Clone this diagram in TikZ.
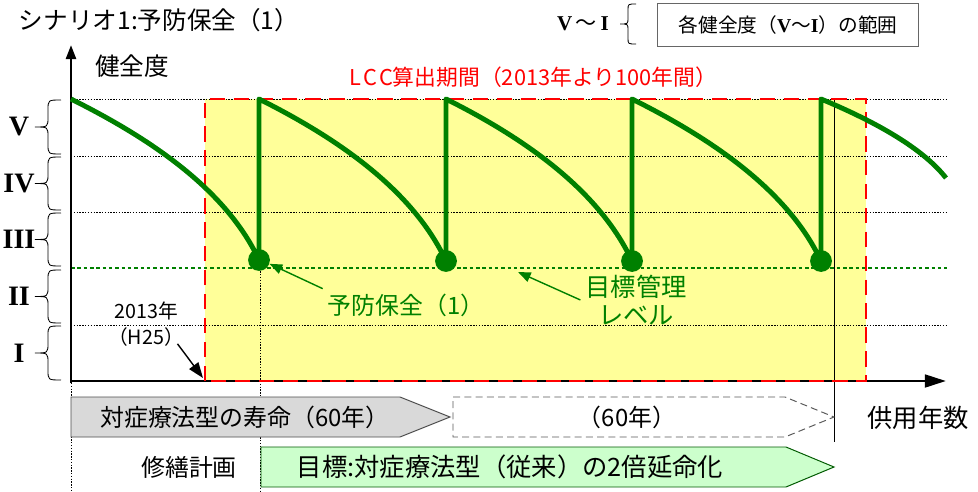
\documentclass[tikz,border=0pt]{standalone}
\usepackage{fontspec}
\setmainfont{Noto Sans CJK JP}
\newfontfamily\romanfont{Liberation Serif}
\usetikzlibrary{arrows.meta}

\definecolor{kgreen}{RGB}{0,128,0}
\definecolor{kyellow}{RGB}{255,255,153}
\definecolor{kpale}{RGB}{204,255,204}
\definecolor{kgray}{RGB}{217,217,217}
\newcommand{\romnum}[1]{{\romanfont\bfseries #1}}

\tikzset{
  gridline/.style={black, line width=0.6pt, dash pattern=on 1pt off 1pt},
  targetline/.style={kgreen, line width=1.4pt, dash pattern=on 2.5pt off 2pt},
  axis/.style={black, line width=2pt},
  lccbox/.style={red, line width=1.6pt, dash pattern=on 11pt off 6pt},
  life/.style={kgreen, line width=3.5pt, line join=round},
  dot/.style={circle, fill=kgreen, inner sep=0pt, minimum size=15.5pt},
  bracket/.style={black, line width=0.6pt},
  roman/.style={font=\fontsize{20}{22}\selectfont\romanfont\bfseries},
  callout/.style={kgreen, line width=1pt, -{Triangle[length=9pt,width=7pt]}},
  t14/.style={font=\fontsize{14}{18}\selectfont},
  t15/.style={font=\fontsize{15}{18}\selectfont},
  t17/.style={font=\fontsize{17}{20}\selectfont},
  t18/.style={font=\fontsize{18}{20}\selectfont},
}

\begin{document}
\begin{tikzpicture}[x=0.025cm, y=-0.025cm]
  \useasboundingbox (0,0) rectangle (978,492);

  \fill[kyellow] (205,99) rectangle (866,381);

  \foreach \y in {99,156,212,325} {
    \draw[gridline] (71,\y) -- (947,\y);
  }
  \draw[targetline] (71,268) -- (947,268);

  \draw[gridline] (71,383) -- (71,492);
  \draw[gridline] (260,260) -- (260,492);
  \draw[line width=0.6pt] (834,99) -- (834,442);

  \draw[axis, -{Triangle[length=10pt,width=7pt]}] (71,383) -- (71,45);
  \draw[axis, -{Triangle[length=15pt,width=9pt]}] (70,381) -- (946,381);

  \draw[lccbox] (205,381) rectangle (866,99);

  \foreach \num/\ya/\yb [count=\k] in {V/100/154, IV/157/210, III/213/266, II/270/323, I/326/380} {
    \pgfmathsetmacro{\ym}{(\ya+\yb)/2}
    \draw[bracket] (61,\ya) .. controls (48,\ya) .. (48,\ya+10) -- (48,\ym-10)
      .. controls (48,\ym) .. (35,\ym) .. controls (48,\ym) .. (48,\ym+10)
      -- (48,\yb-10) .. controls (48,\yb) .. (61,\yb);
    \node[roman] (lv\k) at (19,\ym) {\num};
  }

  \coordinate (t0) at (71,99);
  \coordinate (t1) at (259,99);
  \coordinate (t2) at (446,99);
  \coordinate (t3) at (632,99);
  \coordinate (t4) at (821,99);
  \coordinate (tend) at (946,178);
  \node[dot] (d1) at (259,260) {};
  \node[dot] (d2) at (446,261) {};
  \node[dot] (d3) at (632,261) {};
  \node[dot] (d4) at (821,261) {};

  \draw[life] (t0) .. controls +(70,35) and +(-35,-75) .. (d1.center) -- (t1)
    .. controls +(70,35) and +(-35,-75) .. (d2.center) -- (t2)
    .. controls +(70,35) and +(-35,-75) .. (d3.center) -- (t3)
    .. controls +(70,35) and +(-35,-75) .. (d4.center) -- (t4)
    .. controls +(48,20) and +(-25,-32) .. (tend);

  \node[font=\fontsize{17.5}{20}\selectfont, anchor=west] (title) at (14,20) {シナリオ1:予防保全（1）};
  \node[font=\fontsize{17.5}{20}\selectfont] (ylab) at (132,66) {健全度};
  \node[font=\fontsize{15.5}{18}\selectfont, text=red] (lcc) at (533,77) {L\kern1.5pt C\kern1.5pt C算出期間（2013年より100年間）};

  \node[font=\fontsize{15}{18}\selectfont] (key) at (583,24) {\romnum{V}\,～\,\romnum{I}};
  \draw[bracket] (636,4) .. controls (628,4) .. (628,10) -- (628,18)
    .. controls (628,24) .. (620,24) .. controls (628,24) .. (628,30)
    -- (628,38) .. controls (628,44) .. (636,44);
  \node[t14, draw=black!60, line width=0.8pt, minimum width=186pt, minimum height=31pt] (keybox) at (788,25) {各健全度（\romnum{V}～\romnum{I}）の範囲};

  \node[t17, text=kgreen] (pm) at (406,305) {予防保全（1）};
  \draw[callout] (pm.north west) -- (d1.-20);

  \node[t18, text=kgreen, align=center] (target) at (636,300) {目標管理\\レベル};
  \coordinate (targethit) at (518,272);
  \draw[callout] (target.west) -- (targethit);

  \node[t14, align=center] (yr) at (146,324) {2013年\\（H25）};
  \coordinate (yrhit) at (203,378);
  \draw[line width=1pt, -{Triangle[length=11pt,width=8pt]}] ([shift={(-8pt,5pt)}]yr.south east) -- (yrhit);

  \draw[fill=kgray, draw=black!70, line width=0.7pt] (71,397) -- (400,397) -- (450,417) -- (400,437) -- (71,437) -- cycle;
  \node[t17] (life60) at (245,417) {対症療法型の寿命（60年）};

  \draw[black!65, line width=0.7pt, dash pattern=on 5pt off 3pt] (453,397) -- (785,397) -- (834,417) -- (785,437) -- (453,437) -- cycle;
  \node[t17] (next60) at (627,417) {（60年）};

  \node[t17] (plan) at (189,467) {修繕計画};
  \draw[fill=kpale, draw=kgreen!70!black, line width=0.7pt] (261,447) -- (786,447) -- (834,467) -- (786,487) -- (261,487) -- cycle;
  \node[t18] (goal) at (510,467) {目標:対症療法型（従来）の2倍延命化};

  \node[t18] (xlab) at (918,418) {供用年数};

\end{tikzpicture}
\end{document}
